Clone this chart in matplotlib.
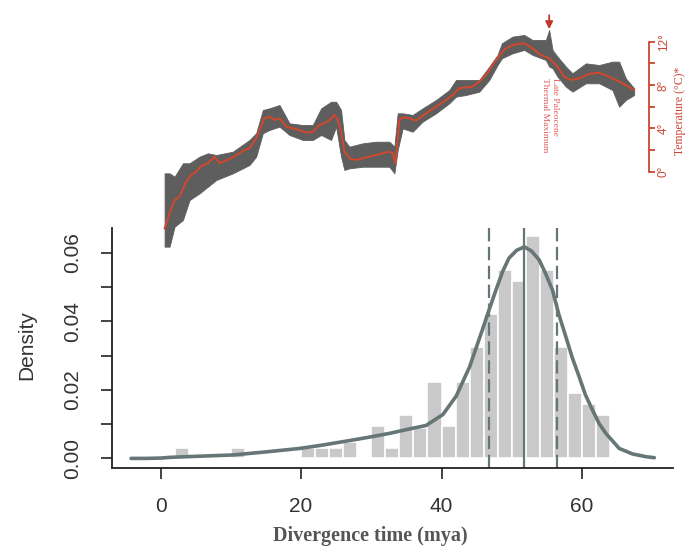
import numpy as np
import matplotlib
matplotlib.use("Agg")
import matplotlib.pyplot as plt

plt.rcParams['font.family'] = ['Liberation Sans', 'DejaVu Sans']

# histogram of divergence times (bin left edge, density), bin width 2 mya
bin_left = [2, 10, 20, 22, 24, 26, 30, 32, 34, 36, 38, 40, 42, 44, 46, 48, 50, 52, 54, 56, 58, 60, 62]
bin_dens = [0.0030, 0.0030, 0.0029, 0.0029, 0.0029, 0.0048, 0.0095, 0.0029, 0.0126, 0.0090, 0.0224,
            0.0095, 0.0224, 0.0326, 0.0420, 0.0550, 0.0517, 0.0650, 0.0550, 0.0326, 0.0192, 0.0160, 0.0126]

# density curve
dens_x = [-4.2, -2, 0, 1.3, 5, 10.3, 15, 19.8, 23.1, 26.9, 30, 32.6, 35.9, 37.8, 40.2, 42.1, 44.0,
          45.8, 46.8, 47.75, 48.7, 49.6, 50.7, 51.8, 52.8, 53.9, 54.8, 55.8, 56.7, 57.7, 58.6, 59.6,
          60.5, 61.5, 62.4, 63.4, 65.3, 67.2, 69.1, 70.3]
dens_y = [0.0, 0.0, 0.0001, 0.0003, 0.0006, 0.0010, 0.0019, 0.0029, 0.0039, 0.0052, 0.0063, 0.0073,
          0.0088, 0.0096, 0.0128, 0.0182, 0.0267, 0.0374, 0.0435, 0.0491, 0.0545, 0.0584, 0.0607,
          0.0617, 0.0605, 0.0579, 0.0540, 0.0491, 0.0420, 0.0355, 0.0295, 0.0238, 0.0185, 0.0141,
          0.0103, 0.0073, 0.0029, 0.0013, 0.0005, 0.0002]

median_age = 51.7
hpd_low, hpd_high = 46.7, 56.5

# deep-sea temperature record (mya, degrees C)
temp_x = [0.57, 1.28, 1.99, 2.70, 3.65, 4.36, 5.07, 5.78, 6.73, 7.68, 8.39, 10.05, 11.95, 12.66, 13.61,
          14.79, 15.5, 16.22, 16.93, 17.88, 19.77, 20.72, 21.67, 22.62, 23.33, 24.04, 24.75, 25.22,
          25.70, 26.17, 26.88, 27.83, 29.73, 31.62, 32.57, 33.05, 33.43, 33.76, 34.0, 34.47, 35.42,
          36.37, 37.79, 39.22, 40.64, 41.58, 42.53, 44.42, 45.38, 46.33, 47.27, 47.98, 49.0, 50.11,
          51.78, 52.96, 54.15, 55.33, 56.52, 57.47, 58.42, 59.60, 61.02, 62.45, 63.87, 65.76, 67.43]
temp_y = [-5.23, -3.84, -2.61, -2.31, -0.92, -0.30, 0.0, 0.53, 0.78, 1.39, 0.78, 1.24, 2.0, 2.16, 3.08,
          4.93, 5.08, 4.77, 4.93, 4.16, 3.85, 3.60, 3.69, 4.31, 4.47, 4.77, 5.24, 4.77,
          3.69, 1.85, 1.24, 1.08, 1.39, 1.70, 1.85, 1.70, 0.78, 2.93, 4.77, 5.02, 4.93,
          4.71, 5.39, 6.0, 6.62, 7.08, 7.70, 7.85, 8.31, 8.93, 9.85, 10.5, 11.3, 11.70,
          11.86, 11.39, 10.78, 10.47, 9.70, 8.77, 8.47, 8.62, 9.02, 9.14, 8.77, 8.16, 7.55]

# spread of the raw measurements around the curve
env_x = [0.57, 1.28, 1.99, 3.18, 4.13, 5.55, 6.73, 7.92, 10.29, 12.66, 13.61, 14.56, 15.5, 16.93, 18.35,
         20.24, 21.67, 22.86, 24.28, 24.99, 25.70, 26.17, 26.88, 28.78, 30.68, 32.57, 33.29, 33.76,
         34.47, 35.89, 37.31, 39.22, 41.11, 42.06, 43.48, 45.38, 46.80, 47.98, 48.6, 50.11, 51.78,
         52.96, 54.86, 55.33, 55.81, 56.52, 57.71, 58.65, 60.55, 62.45, 64.34, 65.29, 66.24, 67.43]
env_hi = [-0.15, -0.15, -0.46, 0.78, 0.78, 1.39, 1.70, 1.54, 1.85, 2.93, 3.55, 5.70, 5.85, 6.16, 4.47,
          4.31, 4.31, 5.85, 6.46, 6.46, 5.70, 2.93, 2.31, 2.62, 2.77, 2.77, 2.31, 5.39,
          5.39, 5.24, 5.85, 6.62, 7.54, 8.47, 8.47, 8.47, 9.70, 10.78, 11.86, 12.47, 12.62,
          12.16, 12.16, 13.08, 11.24, 10.62, 9.70, 9.09, 10.0, 9.85, 10.16, 10.16, 8.62, 7.70]
env_lo = [-6.92, -6.92, -5.08, -4.46, -2.61, -2.0, -1.39, -0.77, -0.15, 0.62, 1.39, 3.55, 3.85, 4.16, 3.39,
          2.93, 2.93, 3.39, 2.93, 4.16, 1.39, 0.16, 0.31, 0.46, 0.46, 0.46, -0.15, 2.0,
          4.0, 3.69, 4.62, 5.39, 6.32, 6.93, 7.08, 7.39, 8.47, 9.85, 10.47, 10.93, 11.24,
          10.78, 10.31, 9.70, 9.55, 8.77, 7.85, 7.39, 8.16, 8.16, 7.54, 6.0, 6.62, 7.08]

petm_x = 55.33
temp_ticks = [0, 2, 4, 6, 8, 10, 12]
temp_ticklabels = ['0°', '', '4°', '', '8°', '', '12°']

curve_col = '#667575'
red = '#cc4433'

fig = plt.figure(figsize=(6.85, 5.49), dpi=100)
W, H = 685.0, 549.0
xlim = (-6.96, 72.96)

# ---- histogram panel
ax = fig.add_axes([111.7 / W, 1 - 468 / H, (673 - 111.7) / W, 240 / H])
ax.bar(bin_left, bin_dens, width=2, align='edge', color='#c9c9c9', edgecolor='white', linewidth=1.2, zorder=1)
ax.axvline(median_age, color=curve_col, lw=1.6, zorder=2)
ax.axvline(hpd_low, color=curve_col, lw=1.6, ls=(0, (6, 2.5)), zorder=2)
ax.axvline(hpd_high, color=curve_col, lw=1.6, ls=(0, (6, 2.5)), zorder=2)
ax.plot(dens_x, dens_y, color=curve_col, lw=2.6, solid_capstyle='round', zorder=3)
ax.set_xlim(*xlim)
ax.set_ylim(-0.0028, 0.0672)
for s in ['top', 'right']:
    ax.spines[s].set_visible(False)
for s in ['left', 'bottom']:
    ax.spines[s].set_color('#222222')
    ax.spines[s].set_linewidth(1.3)
ax.set_xticks([0, 20, 40, 60])
ax.set_yticks(np.arange(0, 0.061, 0.01))
ax.set_yticklabels(['0.00', '', '0.02', '', '0.04', '', '0.06'], rotation=90, va='center')
ax.tick_params(axis='both', length=8, width=1.2, color='#222222', labelsize=15, labelcolor='#333333')
ax.tick_params(axis='y', pad=13)
ax.tick_params(axis='x', pad=13)
fig.text(26.7 / W, 1 - 345 / H, 'Density', rotation=90, ha='center', va='center', fontsize=15, color='#333333')
fig.text(370 / W, 1 - 541 / H, 'Divergence time (mya)', ha='center', va='baseline', fontsize=14.5,
         family='Liberation Serif', weight='bold', color='#555555')

# ---- temperature panel
ax2 = fig.add_axes([111.7 / W, 1 - 260 / H, (673 - 111.7) / W, 260 / H])
ax2.patch.set_alpha(0)
ax2.fill_between(env_x, env_lo, env_hi, color='#5e5e5e', lw=0.6, edgecolor='#5e5e5e')
ax2.plot(temp_x, temp_y, color='#d4472c', lw=1.4)
ax2.set_xlim(*xlim)
ax2.set_ylim(-8.15, 15.85)
for s in ['top', 'left', 'bottom']:
    ax2.spines[s].set_visible(False)
ax2.spines['right'].set_position(('data', 69.6))
ax2.spines['right'].set_bounds(0, 12)
ax2.spines['right'].set_color(red)
ax2.spines['right'].set_linewidth(1.3)
ax2.set_xticks([])
ax2.yaxis.tick_right()
ax2.set_yticks(temp_ticks)
ax2.set_yticklabels(temp_ticklabels, rotation=90, va='center')
ax2.tick_params(axis='y', colors=red, length=4.5, width=1.3, labelsize=8.5, pad=1.5)
ax2.annotate('', xy=(petm_x, 12.9), xytext=(petm_x, 14.7),
             arrowprops=dict(arrowstyle='-|>', color='#c0392b', lw=1.3, mutation_scale=11))
ax2.text(55.45, 8.65, 'Late Paleocene\nThermal Maximum', rotation=-90, ha='center', va='top',
         multialignment='left', fontsize=6.8, family='Liberation Serif', color='#e05a5a', linespacing=1.25)
ax2.text(74.0, 5.6, 'Temperature (°C)*', rotation=90, ha='center', va='center', fontsize=8.5,
         family='Liberation Serif', color=red, clip_on=False)

fig.savefig('out.png', dpi=100)
